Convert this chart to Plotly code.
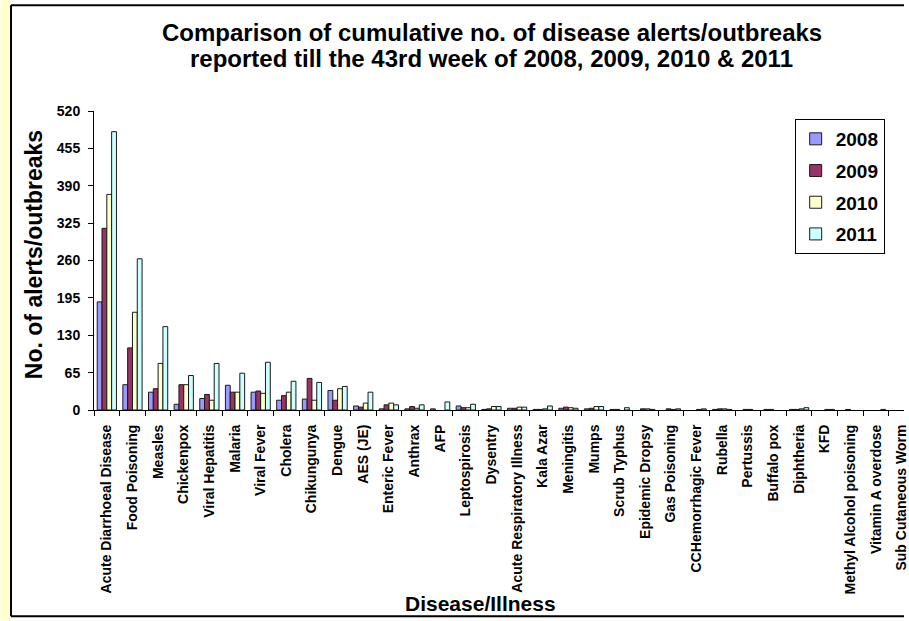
import plotly.graph_objects as go

categories = [
    "Acute Diarrhoeal Disease", "Food Poisoning", "Measles", "Chickenpox",
    "Viral Hepatitis", "Malaria", "Viral Fever", "Cholera", "Chikungunya",
    "Dengue", "AES (JE)", "Enteric Fever", "Anthrax", "AFP", "Leptospirosis",
    "Dysentry", "Acute Respiratory Illness", "Kala Azar", "Meningitis", "Mumps",
    "Scrub Typhus", "Epidemic Dropsy", "Gas Poisoning", "CCHemorrhagic Fever",
    "Rubella", "Pertussis", "Buffalo pox", "Diphtheria", "KFD",
    "Methyl Alcohol poisoning", "Vitamin A overdose", "Sub Cutaneous Worm",
]

y2008 = [188, 44, 31, 10, 20, 43, 31, 17, 19, 34, 7, 2, 2, 2, 7, 1, 3, 1, 3, 2,
         1, 0, 0, 0, 1, 0, 1, 1, 0, 0, 0, 0]
y2009 = [316, 108, 37, 44, 27, 31, 33, 25, 55, 17, 5, 9, 6, 0, 4, 2, 3, 1, 5, 3,
         1, 2, 2, 0, 2, 1, 1, 1, 0, 1, 0, 0]
y2010 = [375, 170, 81, 44, 17, 31, 29, 31, 17, 37, 12, 12, 3, 0, 4, 6, 5, 2, 4, 6,
         0, 2, 1, 1, 2, 1, 0, 2, 1, 0, 0, 0]
y2011 = [484, 263, 145, 60, 81, 64, 83, 50, 48, 41, 31, 9, 9, 14, 10, 6, 5, 7, 3, 6,
         4, 1, 2, 2, 1, 0, 0, 4, 1, 0, 1, 0]

series_names = ["2008", "2009", "2010", "2011"]
series_values = [y2008, y2009, y2010, y2011]
series_colors = ["#9999FF", "#993366", "#FFFFCC", "#CCFFFF"]

yticks = [0, 65, 130, 195, 260, 325, 390, 455, 520]

title_lines = ["Comparison of cumulative no. of disease alerts/outbreaks",
               "reported till the 43rd week of 2008, 2009, 2010 & 2011"]

W, H = 909, 621
ML, MR, MT, MB = 94, 0, 111, 210.5
PW = W - ML - MR
PH = H - MT - MB


def px_x(p):
    return (p - ML) / PW


def px_y(p):
    return (H - MB - p) / PH


FONT = "Liberation Sans, Arial, sans-serif"

fig = go.Figure()
for name, vals, col in zip(series_names, series_values, series_colors):
    fig.add_trace(go.Bar(
        name=name, x=categories, y=[v if v else None for v in vals],
        marker=dict(color=col, line=dict(color="#1a1a1a", width=1)),
        legendgroup=name,
    ))

annotations = []
for line_text, ypx in zip(title_lines, [32, 58]):
    annotations.append(dict(
        text=line_text, xref="paper", yref="paper", x=px_x(494), y=px_y(ypx),
        xanchor="center", yanchor="middle", showarrow=False,
        font=dict(family=FONT, size=24, weight="bold")))
annotations += [
    dict(text="No. of alerts/outbreaks", textangle=-90,
         xref="paper", yref="paper", x=px_x(33), y=px_y(255),
         xanchor="center", yanchor="middle", showarrow=False,
         font=dict(family=FONT, size=23, weight="bold")),
    dict(text="Disease/Illness",
         xref="paper", yref="paper", x=px_x(483), y=px_y(604),
         xanchor="center", yanchor="middle", showarrow=False,
         font=dict(family=FONT, size=21, weight="bold")),
]

fig.update_layout(
    width=W, height=H,
    margin=dict(l=ML, r=MR, t=MT, b=MB, pad=0),
    paper_bgcolor="white", plot_bgcolor="white",
    barmode="group", bargap=0.25, bargroupgap=0,
    font=dict(family=FONT, color="black"),
    showlegend=True,
    legend=dict(
        x=px_x(799), y=px_y(119), xanchor="left", yanchor="top",
        bordercolor="black", borderwidth=1, bgcolor="white",
        font=dict(family=FONT, size=19, weight="bold", color="black"),
        tracegroupgap=4, itemwidth=30,
    ),
    xaxis=dict(
        type="category", range=[-0.5, PW / 25.8 - 0.5],
        showline=True, linecolor="black", linewidth=1,
        ticks="outside", ticklen=5, tickcolor="black", tickson="boundaries",
        tickangle=-90, tickfont=dict(family=FONT, size=14, weight="bold"),
        ticklabelstandoff=8,
        showgrid=False, zeroline=False,
    ),
    yaxis=dict(
        range=[0, 520], tickvals=yticks, ticktext=[str(t) for t in yticks],
        showline=True, linecolor="black", linewidth=1,
        ticks="outside", ticklen=5, tickcolor="black",
        tickfont=dict(family=FONT, size=14, weight="bold"),
        ticklabelstandoff=5,
        showgrid=False, zeroline=False,
    ),
    annotations=annotations,
    shapes=[
        dict(type="rect", xref="paper", yref="paper",
             x0=px_x(0), x1=px_x(10), y0=px_y(0), y1=px_y(H),
             fillcolor="#FFFFCC", line=dict(width=0), layer="below"),
        dict(type="line", xref="paper", yref="paper",
             x0=px_x(10.5), x1=px_x(10.5), y0=px_y(5), y1=px_y(617),
             line=dict(color="black", width=2)),
        dict(type="line", xref="paper", yref="paper",
             x0=px_x(10.5), x1=px_x(W), y0=px_y(5), y1=px_y(5),
             line=dict(color="black", width=2)),
        dict(type="line", xref="paper", yref="paper",
             x0=px_x(10.5), x1=px_x(W), y0=px_y(617), y1=px_y(617),
             line=dict(color="black", width=2)),
    ],
)

fig.write_html("out.html",
               config={"displayModeBar": False},
               post_script="document.body.style.margin='0';"
                           "document.body.style.overflow='hidden';")
